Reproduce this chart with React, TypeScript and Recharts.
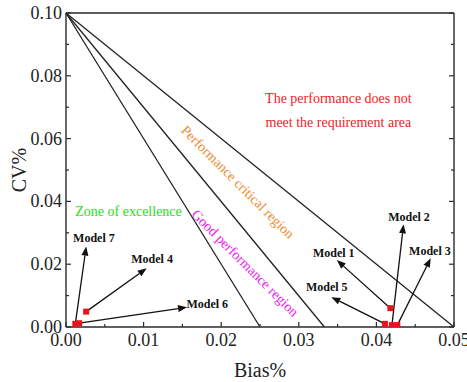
import {
  ReferenceDot,
  ReferenceLine,
  Scatter,
  ScatterChart,
  XAxis,
  YAxis,
} from 'recharts'

// limit lines all start at (0, 0.10) and hit CV = 0 at these bias values
const limitStartCv = 0.1
const limitBias = [0.025, 0.0333, 0.05]

const models = ['Model 1', 'Model 2', 'Model 3', 'Model 4', 'Model 5', 'Model 6', 'Model 7']
const modelBias = [0.0418, 0.042, 0.0427, 0.0026, 0.0411, 0.0017, 0.0012]
const modelCv = [0.006, 0.0006, 0.0006, 0.0049, 0.001, 0.0012, 0.001]

// arrow tips and label centres, in data units
const tipBias = [0.0349, 0.0435, 0.047, 0.0104, 0.0342, 0.0156, 0.0026]
const tipCv = [0.0213, 0.0327, 0.0219, 0.0187, 0.0095, 0.0063, 0.0256]
const labelBias = [0.0345, 0.0442, 0.0469, 0.0111, 0.0336, 0.0182, 0.0036]
const labelCv = [0.0237, 0.0351, 0.0242, 0.0217, 0.0128, 0.0073, 0.0283]

const xTicks = [0, 0.005, 0.01, 0.015, 0.02, 0.025, 0.03, 0.035, 0.04, 0.045, 0.05]
const yTicks = [0, 0.01, 0.02, 0.03, 0.04, 0.05, 0.06, 0.07, 0.08, 0.09, 0.1]

const FONT = '"Liberation Serif", "Times New Roman", serif'
const AXIS = '#2a2a2a'

const isMajorX = (v: number) => Math.round(v * 1000) % 10 === 0
const isMajorY = (v: number) => Math.round(v * 100) % 2 === 0

const BottomTick = ({ x, y, payload }: any) => {
  const major = isMajorX(payload.value)
  return (
    <g>
      <line x1={x} x2={x} y1={y} y2={y - (major ? 5 : 3)} stroke={AXIS} strokeWidth={1.2} />
      {major && (
        <text x={x} y={y + 19} textAnchor="middle" fontSize={18} fontFamily={FONT} fill="#222">
          {payload.value.toFixed(2)}
        </text>
      )}
    </g>
  )
}

const TopTick = ({ x, y, payload }: any) => (
  <line x1={x} x2={x} y1={y} y2={y + (isMajorX(payload.value) ? 5 : 3)} stroke={AXIS} strokeWidth={1.2} />
)

const LeftTick = ({ x, y, payload }: any) => {
  const major = isMajorY(payload.value)
  return (
    <g>
      <line x1={x} x2={x + (major ? 5 : 3)} y1={y} y2={y} stroke={AXIS} strokeWidth={1.2} />
      {major && (
        <text x={x - 4} y={y + 6} textAnchor="end" fontSize={18} fontFamily={FONT} fill="#222">
          {payload.value.toFixed(2)}
        </text>
      )}
    </g>
  )
}

const RightTick = ({ x, y, payload }: any) => (
  <line x1={x} x2={x - (isMajorY(payload.value) ? 5 : 3)} y1={y} y2={y} stroke={AXIS} strokeWidth={1.2} />
)

const Square = ({ cx, cy }: any) => (
  <rect x={cx - 3} y={cy - 3} width={6} height={6} fill="#e8141c" />
)

const Arrow = ({ x1, y1, x2, y2 }: any) => {
  const a = Math.atan2(y2 - y1, x2 - x1)
  const len = 9
  const w = 3.5
  const bx = x2 - len * Math.cos(a)
  const by = y2 - len * Math.sin(a)
  const px = -Math.sin(a) * w
  const py = Math.cos(a) * w
  return (
    <g>
      <line x1={x1} y1={y1} x2={bx} y2={by} stroke="#111" strokeWidth={1.3} />
      <polygon points={`${x2},${y2} ${bx + px},${by + py} ${bx - px},${by - py}`} fill="#111" />
    </g>
  )
}

const textShape =
  (value: string, color: string, size: number, opts: { bold?: boolean; rotate?: number } = {}) =>
  ({ cx, cy }: any) => (
    <text
      x={cx}
      y={cy}
      dy={size * 0.35}
      textAnchor="middle"
      fontSize={size}
      fontFamily={FONT}
      fontWeight={opts.bold ? 'bold' : 'normal'}
      fill={color}
      transform={opts.rotate ? `rotate(${opts.rotate} ${cx} ${cy})` : undefined}
    >
      {value}
    </text>
  )

export default function App() {
  const points = models.map((m, i) => ({ name: m, x: modelBias[i], y: modelCv[i] }))

  return (
    <div style={{ position: 'relative', width: 467, height: 382, fontFamily: FONT, background: '#fff' }}>
      <style>{'body{margin:0}'}</style>
      <ScatterChart width={467} height={382} margin={{ top: 0, right: 0, bottom: 0, left: 0 }}>
        <XAxis
          xAxisId="b"
          dataKey="x"
          type="number"
          domain={[0, 0.05]}
          ticks={xTicks}
          interval={0}
          height={55}
          tickSize={0}
          tickMargin={0}
          tick={<BottomTick />}
          stroke={AXIS}
          strokeWidth={1.4}
          allowDataOverflow
        />
        <XAxis
          xAxisId="t"
          orientation="top"
          type="number"
          domain={[0, 0.05]}
          ticks={xTicks}
          interval={0}
          height={13}
          tickSize={0}
          tickMargin={0}
          tick={<TopTick />}
          stroke={AXIS}
          strokeWidth={1.4}
          allowDataOverflow
        />
        <YAxis
          yAxisId="l"
          dataKey="y"
          type="number"
          domain={[0, 0.1]}
          ticks={yTicks}
          interval={0}
          width={66}
          tickSize={0}
          tickMargin={0}
          tick={<LeftTick />}
          stroke={AXIS}
          strokeWidth={1.4}
          allowDataOverflow
        />
        <YAxis
          yAxisId="r"
          orientation="right"
          type="number"
          domain={[0, 0.1]}
          ticks={yTicks}
          interval={0}
          width={13}
          tickSize={0}
          tickMargin={0}
          tick={<RightTick />}
          stroke={AXIS}
          strokeWidth={1.4}
          allowDataOverflow
        />

        {limitBias.map((b) => (
          <ReferenceLine
            key={b}
            xAxisId="b"
            yAxisId="l"
            segment={[
              { x: 0, y: limitStartCv },
              { x: b, y: 0 },
            ]}
            stroke="#222"
            strokeWidth={1.3}
          />
        ))}

        {models.map((m, i) => (
          <ReferenceLine
            key={m + '-arrow'}
            xAxisId="b"
            yAxisId="l"
            segment={[
              { x: modelBias[i], y: modelCv[i] },
              { x: tipBias[i], y: tipCv[i] },
            ]}
            shape={Arrow}
            ifOverflow="visible"
          />
        ))}

        <Scatter
          xAxisId="b"
          yAxisId="l"
          data={points}
          shape={Square}
          isAnimationActive={false}
        />

        {models.map((m, i) => (
          <ReferenceDot
            key={m + '-label'}
            xAxisId="b"
            yAxisId="l"
            x={labelBias[i]}
            y={labelCv[i]}
            ifOverflow="visible"
            shape={textShape(m, '#111', 12, { bold: true })}
          />
        ))}

        <ReferenceDot
          xAxisId="b"
          yAxisId="l"
          x={0.0351}
          y={0.0729}
          ifOverflow="visible"
          shape={textShape('The performance does not', '#ee1c25', 14)}
        />
        <ReferenceDot
          xAxisId="b"
          yAxisId="l"
          x={0.0351}
          y={0.0653}
          ifOverflow="visible"
          shape={textShape('meet the requirement area', '#ee1c25', 14)}
        />
        <ReferenceDot
          xAxisId="b"
          yAxisId="l"
          x={0.00806}
          y={0.0369}
          ifOverflow="visible"
          shape={textShape('Zone of excellence', '#22e022', 14)}
        />
        <ReferenceDot
          xAxisId="b"
          yAxisId="l"
          x={0.02216}
          y={0.0462}
          ifOverflow="visible"
          shape={textShape('Performance critical region', '#f08a30', 14, { rotate: 45 })}
        />
        <ReferenceDot
          xAxisId="b"
          yAxisId="l"
          x={0.0231}
          y={0.0204}
          ifOverflow="visible"
          shape={textShape('Good performance region', '#ee22ee', 14, { rotate: 45 })}
        />
      </ScatterChart>

      <div
        style={{
          position: 'absolute',
          left: 19,
          top: 170,
          transform: 'translate(-50%, -50%) rotate(-90deg)',
          fontSize: 20,
          color: '#222',
          whiteSpace: 'nowrap',
        }}
      >
        CV%
      </div>
      <div
        style={{
          position: 'absolute',
          left: 260,
          top: 370,
          transform: 'translate(-50%, -50%)',
          fontSize: 20,
          color: '#222',
          whiteSpace: 'nowrap',
        }}
      >
        Bias%
      </div>
    </div>
  )
}
